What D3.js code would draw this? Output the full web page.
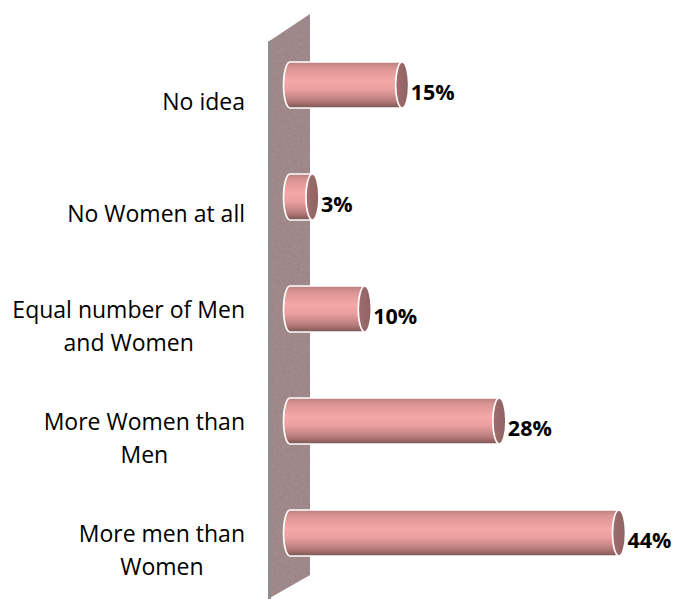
<!DOCTYPE html>
<html><head><meta charset="utf-8">
<script src="https://cdn.jsdelivr.net/npm/d3@7"></script>
<style>
html,body{margin:0;padding:0;background:#fff;}
svg{display:block;}
text{font-family:"Open Sans",sans-serif;fill:#000;}
</style></head>
<body>
<svg id="chart" width="675" height="599"></svg>
<script>
const categories = ["No idea","No Women at all","Equal number of Men and Women","More Women than Men","More men than Women"];
const labelLines = [["No idea"],["No Women at all"],["Equal number of Men","and Women"],["More Women than","Men"],["More men than","Women"]];
const values = [15, 3, 10, 28, 44];
const valueLabels = ["15%","3%","10%","28%","44%"];

const svg = d3.select("#chart");
const defs = svg.append("defs");

const bodyGrad = defs.append("linearGradient").attr("id","body").attr("x1",0).attr("y1",0).attr("x2",0).attr("y2",1);
[[0,"#b98080"],[0.12,"#d99393"],[0.4,"#f4a8a7"],[0.6,"#eaa09f"],[0.85,"#b57b7b"],[1,"#7e5252"]].forEach(([o,c])=>
  bodyGrad.append("stop").attr("offset",o).attr("stop-color",c));

const endGrad = defs.append("linearGradient").attr("id","endcap").attr("x1",0).attr("y1",0).attr("x2",1).attr("y2",0);
[[0,"#a06d6d"],[1,"#8f6262"]].forEach(([o,c])=>endGrad.append("stop").attr("offset",o).attr("stop-color",c));

const filt = defs.append("filter").attr("id","tex").attr("x",0).attr("y",0).attr("width","100%").attr("height","100%");
filt.append("feTurbulence").attr("type","fractalNoise").attr("baseFrequency",0.35).attr("numOctaves",2).attr("seed",3).attr("result","n");
filt.append("feColorMatrix").attr("in","n").attr("type","matrix")
  .attr("values","0 0 0 0 0.45  0 0 0 0 0.38  0 0 0 0 0.39  0 0 0 0.35 0").attr("result","c");
filt.append("feComposite").attr("in","c").attr("in2","SourceGraphic").attr("operator","in").attr("result","m");
filt.append("feMerge").selectAll("feMergeNode").data(["SourceGraphic","m"]).join("feMergeNode").attr("in",d=>d);

const x = d3.scaleLinear().domain([0, 44]).range([290, 619]);
const y = d3.scaleBand().domain(categories).range([29, 589]).paddingInner(0.59).paddingOuter(0.295);

svg.append("path").attr("d","M268,42 L310,14 L310,575 L268,599 Z").attr("fill","#9a8183").attr("filter","url(#tex)");
svg.append("path").attr("d","M268,42 L271,40 L271,599 L268,599 Z").attr("fill","#8e8c8c");

const rx = 6.5;
const g = svg.append("g");
categories.forEach((c,i)=>{
  const h = y.bandwidth();
  const cy = y(c) + h/2;
  const top = y(c), bot = y(c)+h;
  const x0 = x(0), x1 = x(values[i]);
  const ry = h/2;
  const body = `M${x1},${top} L${x0},${top} A${rx},${ry} 0 0 0 ${x0},${bot} L${x1},${bot} Z`;
  g.append("path").attr("d",body).attr("fill","url(#body)").attr("stroke","#fff").attr("stroke-width",1.6);
  g.append("ellipse").attr("cx",x1).attr("cy",cy).attr("rx",rx).attr("ry",ry)
    .attr("fill","url(#endcap)").attr("stroke","#fff").attr("stroke-width",1.6);
  g.append("text").attr("x",x1+rx+2).attr("y",cy+15).attr("font-size",21.5).attr("font-weight","bold").text(valueLabels[i]);

  const lines = labelLines[i];
  const n = lines.length;
  const lh = 33;
  const tx = lines.map((ln,k)=> svg.append("text").attr("font-size",23).attr("text-anchor","middle")
      .attr("y", cy + 25 + (k-(n-1)/2)*lh).text(ln));
  const maxW = d3.max(tx, t=>t.node().getComputedTextLength());
  tx.forEach(t=>t.attr("x", 245 - maxW/2));
});
</script>
</body></html>
